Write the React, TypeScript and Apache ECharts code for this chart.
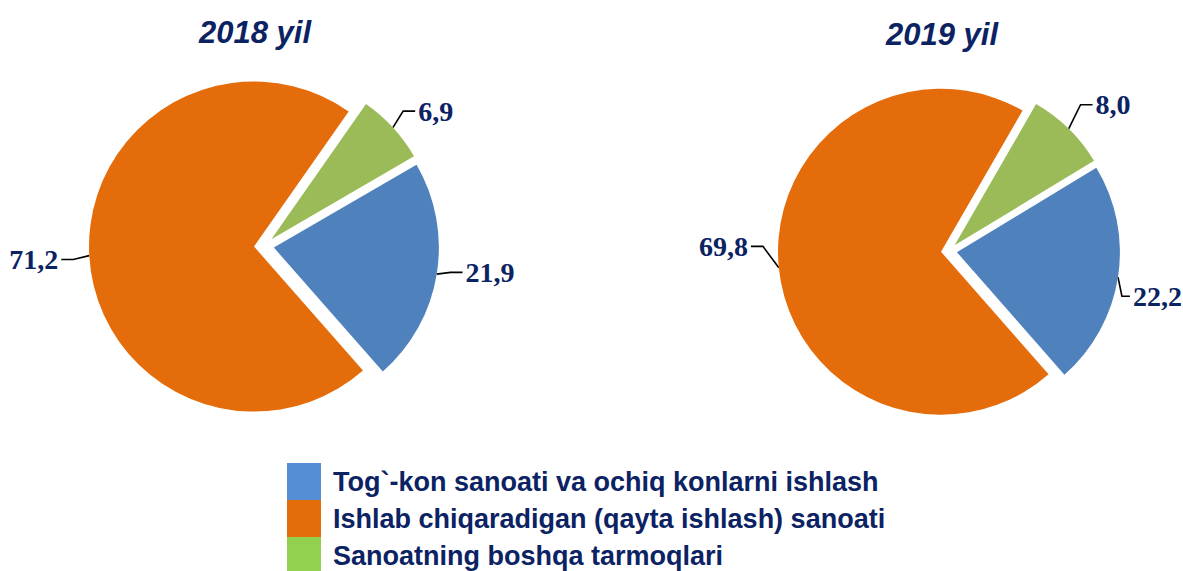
import React, { useEffect, useRef } from "react";
import * as echarts from "echarts";

const categories = [
  "Sanoatning boshqa tarmoqlari",
  "Tog`-kon sanoati va ochiq konlarni ishlash",
  "Ishlab chiqaradigan (qayta ishlash) sanoati",
];
const legendOrder = [
  "Tog`-kon sanoati va ochiq konlarni ishlash",
  "Ishlab chiqaradigan (qayta ishlash) sanoati",
  "Sanoatning boshqa tarmoqlari",
];
const values2018 = [6.9, 21.9, 71.2];
const values2019 = [8.0, 22.2, 69.8];
const titles = ["2018 yil", "2019 yil"];

const sliceColors = ["#9BBB59", "#4F81BD", "#E46C0A"];
const legendColors = ["#558ED5", "#E46C0A", "#92D050"];
const NAVY = "#0B2263";

// label nudges [dx, dy] per series / slice
const labelShift = [
  [[0, -7], [0, -4], [0, 3]],
  [[0, -12], [-4, 18], [0, -23]],
];

export default function App() {
  const ref = useRef<HTMLDivElement>(null);
  useEffect(() => {
    document.body.style.margin = "0";
    const chart = echarts.init(ref.current!, null, { renderer: "svg" });
    const fmt = (p: any) => Number(p.value).toFixed(1).replace(".", ",");
    const makeSeries = (
      vals: number[],
      center: number[],
      radius: number,
      startAngle: number,
      offset: number,
      lens: number[][]
    ) => ({
      type: "pie",
      center,
      radius,
      startAngle,
      clockwise: true,
      selectedMode: "multiple",
      selectedOffset: offset,
      avoidLabelOverlap: false,
      emphasis: { disabled: true },
      label: {
        show: true,
        position: "outside",
        formatter: fmt,
        fontFamily: "Liberation Serif",
        fontWeight: "bold",
        fontSize: 28,
        color: NAVY,
        distanceToLabelLine: 3,
        padding: [0, 0, 12, 0],
      },
      labelLine: {
        show: true,
        lineStyle: { color: "#000", width: 1.6 },
      },
      labelLayout: (params: any) => {
        const s = labelShift[params.seriesIndex][params.dataIndex];
        const pts = params.labelLinePoints;
        const out: any = { dx: s[0], dy: s[1] };
        if (pts && pts.length === 3) {
          out.labelLinePoints = [
            [pts[0][0], pts[0][1]],
            [pts[1][0] + s[0], pts[1][1] + s[1]],
            [pts[2][0] + s[0], pts[2][1] + s[1]],
          ];
        }
        return out;
      },
      data: categories.map((name, i) => ({
        name,
        value: vals[i],
        selected: true,
        itemStyle: { color: sliceColors[i] },
        labelLine: { length: lens[i][0], length2: lens[i][1] },
      })),
    });
    chart.setOption({
      animation: false,
      title: [
        {
          text: titles[0],
          left: 250,
          top: 12,
          textAlign: "center",
          textStyle: { fontFamily: "Liberation Sans", fontStyle: "italic", fontWeight: "bold", fontSize: 31, color: NAVY },
        },
        {
          text: titles[1],
          left: 937,
          top: 14,
          textAlign: "center",
          textStyle: { fontFamily: "Liberation Sans", fontStyle: "italic", fontWeight: "bold", fontSize: 31, color: NAVY },
        },
      ],
      legend: {
        orient: "vertical",
        left: 287,
        top: 463,
        height: 140,
        padding: 0,
        itemWidth: 34,
        itemHeight: 37,
        itemGap: 0,
        icon: "rect",
        selectedMode: false,
        data: legendOrder.map((name, i) => ({ name, itemStyle: { color: legendColors[i] } })),
        textStyle: {
          fontFamily: "Liberation Sans",
          fontWeight: "bold",
          fontSize: 27,
          color: NAVY,
          padding: [0, 0, 0, 7],
        },
      },
      series: [
        makeSeries(values2018, [264, 246], 165, 55, 10, [[14, 12], [14, 12], [16, 12]]),
        makeSeries(values2019, [949, 251], 163, 60, 8, [[17, 12], [8, 8], [16, 12]]),
      ],
    });
    return () => chart.dispose();
  }, []);
  return <div ref={ref} style={{ width: 1183, height: 571 }} />;
}
